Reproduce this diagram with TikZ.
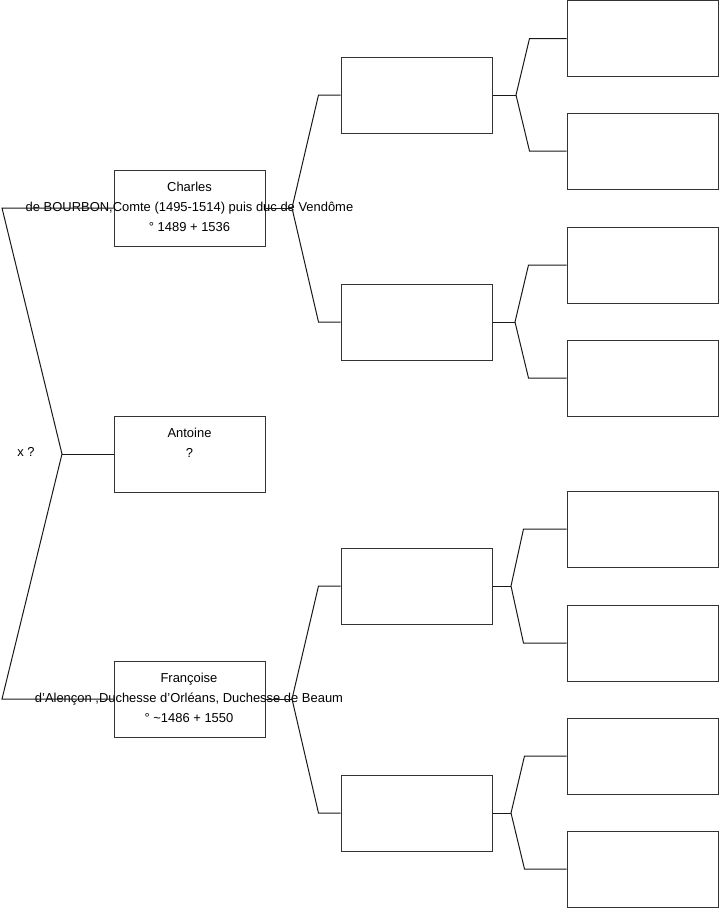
\documentclass[tikz,border=0pt]{standalone}
\usepackage{fontspec}
\setmainfont{Liberation Sans}[Ligatures=ResetAll]
\usetikzlibrary{calc}
\begin{document}
\begin{tikzpicture}[x=1pt,y=-1pt,
  box/.style={draw=black!80,line width=1pt,minimum width=151pt,minimum height=76pt,inner sep=0pt},
  txt/.style={align=center,inner sep=0pt,anchor=north,font=\fontsize{12.95}{20}\selectfont},
  conn/.style={draw=black!90,line width=1pt}]
\useasboundingbox (0,0) rectangle (719,908);
% generation 1
\node[box] (c) at (189.5,208) {};
\node[box] (a) at (189.5,454) {};
\node[box] (f) at (189.5,699) {};
% generation 2
\node[box] (g1) at (416.5,95) {};
\node[box] (g2) at (416.5,322) {};
\node[box] (g3) at (416.5,586) {};
\node[box] (g4) at (416.5,813) {};
% generation 3
\node[box] (h1) at (642.5,38.5) {};
\node[box] (h2) at (642.5,151) {};
\node[box] (h3) at (642.5,265) {};
\node[box] (h4) at (642.5,378) {};
\node[box] (h5) at (642.5,529) {};
\node[box] (h6) at (642.5,643) {};
\node[box] (h7) at (642.5,756) {};
\node[box] (h8) at (642.5,869) {};
% texts
\node[txt] (ct) at ([yshift=-12pt]c.north) {Charles\\de BOURBON,Comte (1495-1514) puis duc de Vendôme\\° 1489 + 1536};
\node[txt] (at) at ([yshift=-12pt]a.north) {Antoine\\?};
\node[txt] (ft) at ([xshift=-0.5pt,yshift=-12pt]f.north) {Françoise\\d'Alençon ,Duchesse d'Orléans, Duchesse de Beaum\\° \textasciitilde1486 + 1550};
\node[font=\fontsize{12.95}{15}\selectfont,inner sep=0pt] (x) at (26,452) {x ?};
% left fork
\coordinate (f0) at (62,454);
\coordinate (l1) at (2,208);
\coordinate (l3) at (2,699);
\draw[conn] (c.west) -- (l1) -- (f0) -- (l3) -- (f.west);
\draw[conn] (f0) -- (a.west);
% gen1 -> gen2
\coordinate (cf) at (292,208);
\draw[conn] (c.east) -- (cf);
\draw[conn] (g1.west) -- ++(-22,0) -- (cf) -- ($(g2.west)+(-22,0)$) -- (g2.west);
\coordinate (ff) at (292,699);
\draw[conn] (f.east) -- (ff);
\draw[conn] (g3.west) -- ++(-22,0) -- (ff) -- ($(g4.west)+(-22,0)$) -- (g4.west);
% gen2 -> gen3
\coordinate (v1) at (516,95);
\draw[conn] (g1.east) -- (v1);
\draw[conn] (h1.west) -- ++(-37,0) -- (v1) -- ($(h2.west)+(-37,0)$) -- (h2.west);
\coordinate (v2) at (515,322);
\draw[conn] (g2.east) -- (v2);
\draw[conn] (h3.west) -- ++(-38,0) -- (v2) -- ($(h4.west)+(-38,0)$) -- (h4.west);
\coordinate (v3) at (511,586);
\draw[conn] (g3.east) -- (v3);
\draw[conn] (h5.west) -- ++(-43,0) -- (v3) -- ($(h6.west)+(-43,0)$) -- (h6.west);
\coordinate (v4) at (511,813);
\draw[conn] (g4.east) -- (v4);
\draw[conn] (h7.west) -- ++(-42,0) -- (v4) -- ($(h8.west)+(-42,0)$) -- (h8.west);
\end{tikzpicture}
\end{document}
